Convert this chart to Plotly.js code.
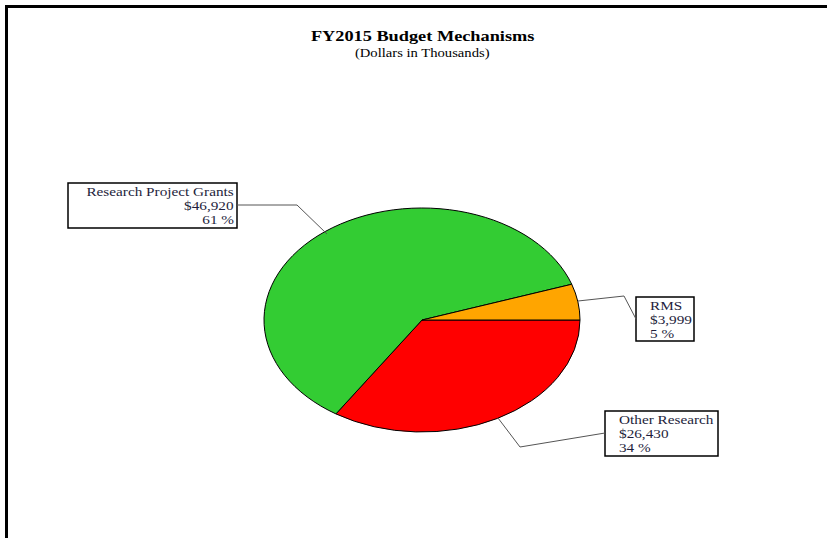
<!DOCTYPE html>
<html>
<head>
<meta charset="utf-8">
<script src="https://cdn.plot.ly/plotly-3.0.1.min.js"></script>
<style>html,body{margin:0;padding:0;background:#fff;}#chart{width:827px;height:538px;}</style>
</head>
<body>
<div id="chart"></div>
<script>
const categories = ['Other Research', 'Research Project Grants', 'RMS'];
const values = [26430, 46920, 3999];
const colors = ['#FF0000', '#33CC33', '#FFA500'];
const titleText = 'FY2015 Budget Mechanisms';
const subtitleText = '(Dollars in Thousands)';

const total = values.reduce((a, b) => a + b, 0);
const fmt = v => '$' + v.toLocaleString('en-US');
const pct = v => Math.round(v / total * 100) + ' %';

const W = 827, H = 538;
const px = x => x / W, py = y => 1 - y / H;
const FONT = 'Liberation Serif, Times New Roman, serif';
const TXT = '#1e1e3c';
const STRETCH = 1.22;

// label box placement per category (layout only)
const boxes = {
  'RMS': {x0: 636, y0: 297, x1: 694, y1: 341, tx: 648, align: 'left',
          path: [[578, 301], [624, 296], [636, 319]]},
  'Research Project Grants': {x0: 68, y0: 183, x1: 237, y1: 228, tx: 236, align: 'right',
          path: [[237, 205], [297, 205], [327, 234]]},
  'Other Research': {x0: 605, y0: 411, x1: 718, y1: 456, tx: 617, align: 'left',
          path: [[498, 418], [520, 447], [605, 433]]}
};

const shapes = [
  {type: 'line', xref: 'paper', yref: 'paper', x0: px(6.5), x1: px(6.5), y0: py(5), y1: py(538), line: {color: '#000', width: 3}},
  {type: 'line', xref: 'paper', yref: 'paper', x0: px(5), x1: px(827), y0: py(6.5), y1: py(6.5), line: {color: '#000', width: 3}}
];
const annotations = [
  {text: '<b>' + titleText + '</b>', xref: 'paper', yref: 'paper', x: px(422), y: py(36), showarrow: false,
   font: {family: FONT, size: 15, color: '#000'}, xanchor: 'center', yanchor: 'middle'},
  {text: subtitleText, xref: 'paper', yref: 'paper', x: px(422), y: py(53), showarrow: false,
   font: {family: FONT, size: 12, color: '#000'}, xanchor: 'center', yanchor: 'middle'}
];

categories.forEach((c, i) => {
  const b = boxes[c];
  shapes.push({type: 'rect', xref: 'paper', yref: 'paper', x0: px(b.x0), x1: px(b.x1), y0: py(b.y0), y1: py(b.y1),
    line: {color: '#000', width: 1.5}, fillcolor: 'rgba(0,0,0,0)'});
  let d = 'M';
  b.path.forEach((p, k) => { d += (k ? ' L' : '') + px(p[0]) + ',' + py(p[1]); });
  shapes.push({type: 'path', xref: 'paper', yref: 'paper', path: d, line: {color: '#555', width: 1}});
  const lines = [c, fmt(values[i]), pct(values[i])];
  lines.forEach((t, k) => {
    annotations.push({text: t, xref: 'paper', yref: 'paper', x: px(b.tx), y: py(b.y0 + 9 + k * 14), showarrow: false,
      xanchor: b.align, yanchor: 'middle', font: {family: FONT, size: 12.5, color: TXT}});
  });
});

const cx = 422, cy = 320, ry = 112, rx = 158;
const trace = {
  type: 'pie', labels: categories, values: values, sort: false,
  direction: 'clockwise', rotation: 90,
  marker: {colors: colors, line: {color: '#000', width: 1}},
  textinfo: 'none', hoverinfo: 'label+value+percent',
  domain: {x: [px(cx - ry), px(cx + ry)], y: [py(cy + ry), py(cy - ry)]},
  showlegend: false
};
const layout = {
  width: W, height: H, margin: {l: 0, r: 0, t: 0, b: 0},
  paper_bgcolor: '#fff', plot_bgcolor: '#fff', showlegend: false,
  shapes: shapes, annotations: annotations
};
Plotly.newPlot('chart', [trace], layout, {displayModeBar: false, staticPlot: true}).then(gd => {
  const layer = gd.querySelector('.pielayer');
  if (layer) {
    const s = rx / ry;
    layer.setAttribute('transform', `translate(${cx},${cy}) scale(${s},1) translate(${-cx},${-cy})`);
    layer.querySelectorAll('path').forEach(p => p.setAttribute('vector-effect', 'non-scaling-stroke'));
  }
  // the reference text is horizontally stretched; widen each annotation about its anchor
  gd.querySelectorAll('text.annotation-text').forEach((t, idx) => {
    const a = annotations[idx];
    if (!a) return;
    const bb = t.getBBox();
    const ax = a.xanchor === 'left' ? bb.x : a.xanchor === 'right' ? bb.x + bb.width : bb.x + bb.width / 2;
    t.setAttribute('transform', `translate(${ax},0) scale(${STRETCH},1) translate(${-ax},0)`);
  });
});
</script>
</body>
</html>
